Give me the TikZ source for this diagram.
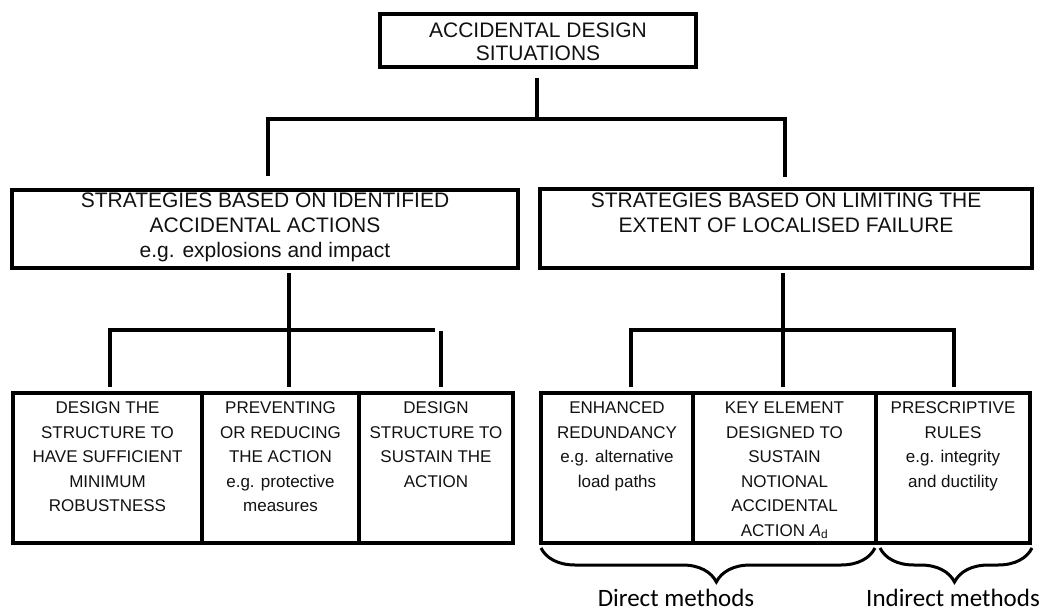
\documentclass[tikz,border=0pt]{standalone}
\usepackage{fontspec}
\setmainfont{Liberation Sans}
\newfontfamily\labelfont{Carlito}
\usetikzlibrary{calc,decorations.pathreplacing}
\definecolor{ink}{HTML}{111111}
\begin{document}
\begin{tikzpicture}[x=1pt,y=-1pt,
  frame/.style={draw=black, line width=3.6pt, rectangle, inner sep=0pt, outer sep=0pt},
  cell/.style={draw=black, line width=3.2pt, rectangle, inner sep=0pt, outer sep=0pt, minimum height=150pt},
  conn/.style={line width=3.8pt, line join=miter},
  bigtext/.style={inner sep=0pt, anchor=north, align=center, text=ink, font=\fontsize{21}{25}\selectfont},
  smalltext/.style={inner sep=0pt, anchor=north, align=center, text=ink, font=\fontsize{17}{24.5}\selectfont},
  bracket/.style={decorate, decoration={brace, mirror, amplitude=34pt}, line width=3pt},
  method/.style={inner sep=0pt, font=\labelfont\fontsize{25}{30}\selectfont, text=black}]
\useasboundingbox (0,0) rectangle (1042,613);

% top level
\node[frame, minimum width=316pt, minimum height=53pt] (top) at (538,40.5) {};
\node[bigtext, font=\fontsize{21}{23}\selectfont] (topT) at (538,23) {ACCIDENTAL DESIGN\\SITUATIONS};

% the two families of strategies
\node[frame, minimum width=506pt, minimum height=78pt] (midL) at (265,229) {};
\node[bigtext] (midLT) at (265,193) {STRATEGIES BASED ON IDENTIFIED\\ACCIDENTAL ACTIONS\\e.g. explosions and impact};
\node[frame, minimum width=492pt, minimum height=79pt] (midR) at (786,228.5) {};
\node[bigtext] (midRT) at (786,193) {STRATEGIES BASED ON LIMITING THE\\EXTENT OF LOCALISED FAILURE};

% individual strategies, left group
\node[cell, minimum width=189pt] (c1) at (107.5,468) {};
\node[cell, minimum width=157pt] (c2) at (280.5,468) {};
\node[cell, minimum width=154pt] (c3) at (436,468) {};
\node[smalltext] (c1T) at (107.5,401.8) {DESIGN THE\\STRUCTURE TO\\HAVE SUFFICIENT\\MINIMUM\\ROBUSTNESS};
\node[smalltext] (c2T) at (280.5,401.8) {PREVENTING\\OR REDUCING\\THE ACTION\\e.g. protective\\measures};
\node[smalltext] (c3T) at (436,401.8) {DESIGN\\STRUCTURE TO\\SUSTAIN THE\\ACTION};

% individual strategies, right group
\node[cell, minimum width=152pt] (d1) at (617,468) {};
\node[cell, minimum width=183pt] (d2) at (784.5,468) {};
\node[cell, minimum width=154pt] (d3) at (953,468) {};
\node[smalltext] (d1T) at (617,401.8) {ENHANCED\\REDUNDANCY\\e.g. alternative\\load paths};
\node[smalltext] (d2T) at (784.5,401.8) {KEY ELEMENT\\DESIGNED TO\\SUSTAIN\\NOTIONAL\\ACCIDENTAL\\ACTION \textit{A}\textsubscript{d}};
\node[smalltext] (d3T) at (953,401.8) {PRESCRIPTIVE\\RULES\\e.g. integrity\\and ductility};

% tree connectors
\coordinate (j1) at (537,119);
\draw[conn] ($(top.south)+(-1,11)$) -- (j1);
\draw[conn] ($(midL.north)+(3,-14)$) |- (j1) -| ($(midR.north)+(-1,-12)$);

\coordinate (j2) at (289,330);
\draw[conn] ($(midL.south)+(24,5)$) -- (j2);
\draw[conn] ($(c1.north)+(2.5,-6)$) |- (j2) -- ($(j2)+(146,0)$);
\draw[conn] (j2) -- ($(c2.north)+(8.5,-6)$);
\draw[conn] ($(c3.north)+(5,-62)$) -- ($(c3.north)+(5,-6)$);

\coordinate (j3) at (783,330);
\draw[conn] ($(midR.south)+(-3,5)$) -- (j3);
\draw[conn] ($(d1.north)+(14,-6)$) |- (j3) -| ($(d3.north)+(1,-6)$);
\draw[conn] (j3) -- ($(d2.north)+(-1.5,-6)$);

% braces grouping the methods
\draw[bracket, decoration={aspect=0.525}] ($(d1.south west)+(0,5)$) -- ($(d2.south east)+(-1,5)$);
\draw[bracket, decoration={aspect=0.49}] ($(d3.south west)+(4,5)$) -- ($(d3.south east)+(2,5)$);
\node[method, anchor=base] (direct) at (676,606) {Direct methods};
\node[method, anchor=base west] (indirect) at (866,606) {Indirect methods};
\end{tikzpicture}
\end{document}
